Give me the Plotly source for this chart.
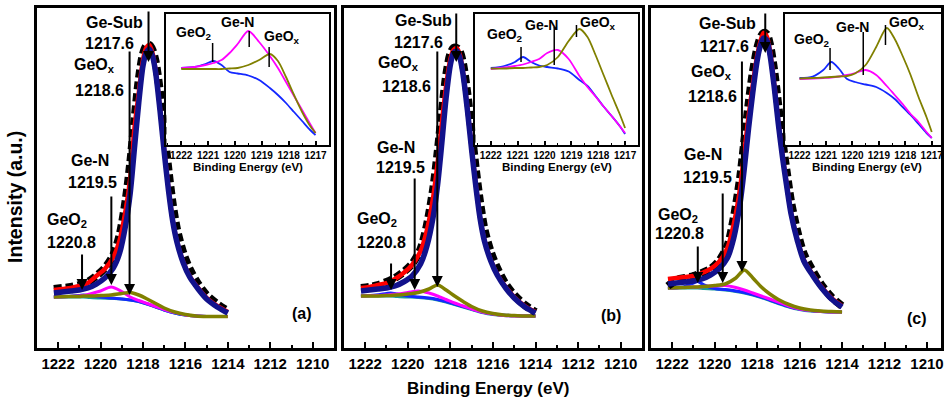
import plotly.graph_objects as go

# ---------------- data ----------------
# main panels: binding energy grid (eV) and intensities (arb. units)
BE_MAIN = [1222.2, 1221.8, 1221.4, 1221.0, 1220.6, 1220.2, 1219.8, 1219.4, 1219.1, 1218.8,
           1218.6, 1218.4, 1218.2, 1218.0, 1217.85, 1217.7, 1217.55, 1217.4, 1217.2, 1217.0,
           1216.8, 1216.6, 1216.4, 1216.1, 1215.8, 1215.4, 1215.0, 1214.5, 1214.0]
BE_COMP = [1222.2, 1221.5, 1221.0, 1220.8, 1220.5, 1220.0, 1219.5, 1219.0, 1218.6, 1218.2,
           1217.8, 1217.4, 1217.0, 1216.5, 1216.0, 1215.5, 1215.0, 1214.5, 1214.0]

data_a = [59, 60, 61, 63, 66, 72, 80, 93, 113, 150, 185, 228, 268, 294, 302, 303, 298, 286, 256, 218,
          178, 144, 119, 95, 79, 64, 53, 44, 37]
env_a = [58, 59, 60, 62, 65, 72, 79, 91, 108, 140, 170, 220, 255, 288, 300, 303, 295, 277, 240, 198,
         160, 128, 107, 86, 72, 60, 50, 42, 36]
sub_a = [55, 56, 57, 58, 60, 64, 70, 80, 95, 125, 155, 200, 245, 282, 295, 299, 292, 275, 238, 196,
         158, 127, 106, 85, 71, 59, 49, 41, 35]
bg_a = [51, 51, 51, 51, 50.5, 50, 49.5, 49, 48, 46.5, 44, 41, 38, 35, 33, 32, 31.5, 31.5, 31.5]
geox_a = [51, 51.5, 51.5, 52, 52, 52.5, 53, 54.5, 55.5, 53, 49, 44.5, 40, 36, 33.5, 32, 31.5, 31.5, 31.5]
gen_a = [51, 51.5, 52, 52.5, 54, 57, 61, 56.5, 51, 47.5, 44.5, 41.5, 38.5, 35.5, 33, 32, 31.5, 31.5, 31.5]
geo2_a = [51, 51.5, 52.5, 53, 52.5, 51, 50, 49, 48, 46.5, 44, 41, 38, 35, 33, 32, 31.5, 31.5, 31.5]

data_b = [60, 61, 63, 66, 70, 76, 84, 99, 123, 160, 195, 235, 272, 294, 300, 300, 296, 284, 254, 216,
          178, 145, 119, 96, 80, 64, 53, 43, 36]
env_b = [60, 61, 63, 65, 69, 75, 83, 97, 118, 152, 185, 225, 262, 289, 298, 300, 293, 275, 240, 200,
         163, 130, 108, 88, 74, 61, 51, 42, 36]
sub_b = [57, 58, 59, 60, 62, 66, 72, 84, 102, 132, 163, 205, 250, 283, 295, 297, 290, 273, 238, 198,
         161, 129, 107, 87, 73, 60, 50, 41, 35]
bg_b = [52, 52, 52, 52, 51.5, 51, 50.5, 49.5, 48, 46, 43.5, 41, 38.5, 35.5, 33.5, 32.5, 32, 32, 32]
geox_b = [52, 52, 52.5, 52.5, 53, 54, 55.5, 59, 63, 58, 52, 46.5, 41.5, 37, 34.5, 33, 32.5, 32, 32]
gen_b = [52, 52.5, 53, 53.5, 54, 55.5, 57, 55, 52, 48.5, 45, 42, 39, 36, 34, 32.5, 32, 32, 32]
geo2_b = [52, 53, 54.5, 55, 54, 52, 51, 50, 48.5, 46.5, 44, 41.5, 39, 36, 34, 33, 32.5, 32, 32]

data_c = [62, 68, 70, 72, 75, 79, 87, 102, 130, 170, 207, 244, 276, 299, 310, 315, 314, 304, 278, 242,
          206, 175, 146, 116, 94, 78, 64, 51, 42]
env_c = [69, 70, 71, 72, 75, 79, 86, 100, 124, 160, 196, 232, 264, 292, 306, 315, 312, 298, 265, 226,
         192, 163, 135, 108, 88, 74, 62, 50, 42]
sub_c = [64, 65, 66, 67, 69, 73, 79, 90, 110, 145, 180, 220, 256, 287, 302, 310, 308, 294, 262, 224,
         190, 161, 134, 107, 87, 73, 61, 49, 41]
bg_c = [60, 60, 60, 60, 59.5, 59, 58, 56.5, 55, 53, 50.5, 47.5, 44.5, 41, 38.5, 37, 36.5, 36, 36]
geox_c = [60, 60.5, 61, 61, 61.5, 62.5, 64, 70, 78, 70, 61, 54, 48.5, 43.5, 40, 38, 37, 36.5, 36]
gen_c = [60, 60.5, 61, 61, 61.5, 62, 62.5, 60.5, 58, 55, 52, 49, 46, 42, 39, 37.5, 36.5, 36, 36]
geo2_c = [60, 61, 65, 66.5, 63, 59.5, 58.5, 57, 55.5, 53.5, 51, 48, 45, 41.5, 39, 37.5, 36.5, 36, 36]

# insets
BE_INSET = [1222.0, 1221.5, 1221.1, 1220.8, 1220.5, 1220.2, 1219.9, 1219.5, 1219.1, 1218.7,
            1218.4, 1218.1, 1217.8, 1217.5, 1217.2, 1217.0]
in_geo2_a = [77, 78, 81, 84, 80, 73, 71.5, 69.5, 65, 57, 50, 42, 33, 24, 15, 10]
in_gen_a = [77, 78, 80, 82, 85, 92, 101, 114, 103, 89, 77, 63, 49, 35, 21, 12]
in_geox_a = [76, 76, 76, 76, 76, 76.5, 77, 80, 85, 91, 84, 68, 50, 33, 19, 12]
in_geo2_b = [77, 79, 83, 88, 83, 79.5, 78, 76.5, 73.5, 65, 59, 49, 38.5, 29, 19, 11]
in_gen_b = [76, 77.5, 79, 80.5, 83, 86, 92, 95, 86, 69, 58, 48.5, 38.5, 29, 19, 12]
in_geox_b = [76.5, 76.5, 77, 77, 77.5, 78, 80, 88, 104, 116, 108, 90, 70, 50, 31, 17]
in_geo2_c = [67, 68.5, 75, 83, 76, 66, 63, 60.5, 58, 52, 46, 38, 30, 21, 12, 7]
in_gen_c = [66, 66.5, 67, 67.5, 68.5, 70, 72, 75, 70, 59, 50, 41, 31, 23, 13, 7]
in_geox_c = [66.5, 67, 67.5, 68, 68.5, 69, 71.5, 80, 98, 117, 106, 89, 70, 48, 28, 13]

TICKS_MAIN = [1222, 1220, 1218, 1216, 1214, 1212, 1210]
TICKS_INSET = [1222, 1221, 1220, 1219, 1218, 1217]
PANEL_TAGS = ["(a)", "(b)", "(c)"]
PEAK_NAMES = ["Ge-Sub", "GeO<sub>x</sub>", "Ge-N", "GeO<sub>2</sub>"]
PEAK_POS = ["1217.6", "1218.6", "1219.5", "1220.8"]

# ---------------- styling / layout ----------------
W, H = 944, 405
FONT = "Liberation Sans, Arial, sans-serif"
C_DATA, C_ENV, C_SUB = "black", "#ff0000", "#12128c"
C_BG, C_GEOX, C_GEN, C_GEO2 = "#1a9a9a", "#808000", "#ff00ff", "#1428ff"


def fx(p):
    return p / W


def fy(p):
    return 1 - p / H


panels = [
    dict(main=(37, 335), rng=(1223, 1209), inset=(167, 330), irng=(1222.55, 1216.5),
         data=data_a, env=env_a, sub=sub_a, bg=bg_a, geox=geox_a, gen=gen_a, geo2=geo2_a,
         igeo2=in_geo2_a, igen=in_gen_a, igeox=in_geox_a),
    dict(main=(345, 644), rng=(1223, 1209), inset=(477, 640), irng=(1222.57, 1216.52),
         data=data_b, env=env_b, sub=sub_b, bg=bg_b, geox=geox_b, gen=gen_b, geo2=geo2_b,
         igeo2=in_geo2_b, igen=in_gen_b, igeox=in_geox_b),
    dict(main=(653, 944), rng=(1223, 1209.34), inset=(788, 944), irng=(1222.53, 1216.65),
         data=data_c, env=env_c, sub=sub_c, bg=bg_c, geox=geox_c, gen=gen_c, geo2=geo2_c,
         igeo2=in_geo2_c, igen=in_gen_c, igeox=in_geox_c),
]

# label positions in pixels (x, y) for each panel
LABELS = [
    [(115, 22), (95, 65), (90, 160), (67, 220)],
    [(425, 20), (400, 64), (397, 147), (378, 219)],
    [(730, 23), (714, 72), (705, 155), (680, 215)],
]
POS_LABELS = [
    [(110, 43), (100, 90), (93, 182), (72, 242)],
    [(420, 42), (408, 87), (402, 168), (383, 242)],
    [(727, 47), (715, 97), (710, 177), (682, 233)],
]
TAG_POS = [(303, 313), (613, 315), (920, 318)]
# arrows: x, tail y, tip y  (order: Ge-Sub, GeOx, Ge-N, GeO2)
ARROWS = [
    [(149, 10, 62), (130, 50, 295), (111.7, 195, 285), (82.3, 253, 290)],
    [(457.7, 12, 62), (438.7, 50, 287), (416, 177, 290), (392.3, 262, 290)],
    [(767.7, 12, 53), (744.3, 60, 272), (725, 192, 283), (700, 245, 283)],
]
# inset labels (GeO2, Ge-N, GeOx) and marker lines (x, y1, y2)
INSET_LABELS = [
    [(195, 33), (238, 22), (283, 37)],
    [(507, 35), (543, 25), (600, 23)],
    [(815, 40), (855, 27), (910, 23)],
]
INSET_MARKS = [
    [(213.3, 43, 62), (250, 31, 47), (270, 47, 67)],
    [(522.7, 47, 62), (556, 27, 65), (578.3, 25, 37)],
    [(832.7, 48, 70), (866, 32, 75), (888.3, 25, 45)],
]
INSET_NAMES = ["GeO<sub>2</sub>", "Ge-N", "GeO<sub>x</sub>"]

MAIN_Y = (8, 348)
INSET_Y = (14, 145)

fig = go.Figure()
layout = {}
annotations = []
shapes = []

for i, p in enumerate(panels):
    mx = i + 1
    ix = i + 4
    xm = "x" if mx == 1 else f"x{mx}"
    ym = "y" if mx == 1 else f"y{mx}"
    xi, yi = f"x{ix}", f"y{ix}"

    def add(x, y, color, width, xa, ya, dash=None):
        fig.add_trace(go.Scatter(x=x, y=y, mode="lines", xaxis=xa, yaxis=ya,
                                 line=dict(color=color, width=width, dash=dash,
                                           shape="spline", smoothing=0.8),
                                 showlegend=False, hoverinfo="skip"))

    add(BE_COMP, p["bg"], C_BG, 3, xm, ym)
    add(BE_COMP, p["geo2"], C_GEO2, 3, xm, ym)
    add(BE_COMP, p["gen"], C_GEN, 3, xm, ym)
    add(BE_COMP, p["geox"], C_GEOX, 3.5, xm, ym)
    add(BE_MAIN, p["data"], C_DATA, 8, xm, ym, dash="8px,4px")
    add(BE_MAIN, p["env"], C_ENV, 4.5, xm, ym)
    add(BE_MAIN, p["sub"], C_SUB, 5.5, xm, ym)

    add(BE_INSET, p["igeo2"], C_GEO2, 1.8, xi, yi)
    add(BE_INSET, p["igen"], C_GEN, 1.8, xi, yi)
    add(BE_INSET, p["igeox"], C_GEOX, 1.8, xi, yi)

    layout[f"xaxis{'' if mx == 1 else mx}"] = dict(
        domain=[fx(p["main"][0]), fx(p["main"][1])], range=list(p["rng"]), anchor=ym,
        showline=True, linewidth=3, linecolor="black", mirror=True,
        ticks="inside", ticklen=6, tickwidth=2, tickcolor="black",
        tickmode="array", tickvals=TICKS_MAIN, ticktext=[str(t) for t in TICKS_MAIN],
        minor=dict(ticks="inside", ticklen=3, tickwidth=2, tickcolor="black", dtick=1, tick0=1209),
        ticklabeloverflow="allow",
        tickfont=dict(family=FONT, size=15, color="black", weight="bold"),
        showgrid=False, zeroline=False, fixedrange=True)
    layout[f"yaxis{'' if mx == 1 else mx}"] = dict(
        domain=[fy(MAIN_Y[1]), fy(MAIN_Y[0])], range=[0, 340], anchor=xm,
        showline=True, linewidth=3, linecolor="black", mirror=True,
        ticks="", showticklabels=False, showgrid=False, zeroline=False)
    layout[f"xaxis{ix}"] = dict(
        domain=[fx(p["inset"][0]), min(1.0, fx(p["inset"][1]))], range=list(p["irng"]), anchor=yi,
        showline=True, linewidth=1.8, linecolor="black", mirror=True,
        ticks="inside", ticklen=4, tickwidth=1.5, tickcolor="black",
        tickmode="array", tickvals=TICKS_INSET, ticktext=[str(t) for t in TICKS_INSET],
        minor=dict(ticks="inside", ticklen=2, tickwidth=1, tickcolor="black", dtick=0.5, tick0=1217),
        ticklabeloverflow="allow",
        tickfont=dict(family=FONT, size=10, color="black", weight="bold"),
        showgrid=False, zeroline=False)
    layout[f"yaxis{ix}"] = dict(
        domain=[fy(INSET_Y[1]), fy(INSET_Y[0])], range=[0, 131], anchor=xi,
        showline=True, linewidth=1.8, linecolor="black", mirror=True,
        ticks="", showticklabels=False, showgrid=False, zeroline=False)

    bold = dict(family=FONT, size=16, color="black", weight="bold")
    for name, (lx, ly) in zip(PEAK_NAMES, LABELS[i]):
        annotations.append(dict(text=name, x=fx(lx), y=fy(ly), xref="paper", yref="paper",
                                showarrow=False, xanchor="center", yanchor="middle", font=bold))
    for val, (lx, ly) in zip(PEAK_POS, POS_LABELS[i]):
        annotations.append(dict(text=val, x=fx(lx), y=fy(ly), xref="paper", yref="paper",
                                showarrow=False, xanchor="center", yanchor="middle", font=bold))
    annotations.append(dict(text=PANEL_TAGS[i], x=fx(TAG_POS[i][0]), y=fy(TAG_POS[i][1]),
                            xref="paper", yref="paper", showarrow=False,
                            xanchor="center", yanchor="middle", font=bold))
    for (axp, tail, tip) in ARROWS[i]:
        annotations.append(dict(text="", x=fx(axp), y=fy(tip), xref="paper", yref="paper",
                                showarrow=True, ax=0, ay=tail - tip, arrowhead=2, arrowsize=1.1,
                                arrowwidth=2, arrowcolor="black", standoff=0))
    for name, (lx, ly) in zip(INSET_NAMES, INSET_LABELS[i]):
        annotations.append(dict(text=name, x=fx(lx), y=fy(ly), xref="paper", yref="paper",
                                showarrow=False, xanchor="center", yanchor="middle",
                                font=dict(family=FONT, size=14, color="black", weight="bold")))
    for (mxp, y1, y2) in INSET_MARKS[i]:
        shapes.append(dict(type="line", xref="paper", yref="paper", x0=fx(mxp), x1=fx(mxp),
                           y0=fy(y1), y1=fy(y2), line=dict(color="black", width=1.5)))
    icx = p["inset"][0] + 81.5
    annotations.append(dict(text="Binding Energy (eV)", x=fx(icx), y=fy(167), xref="paper",
                            yref="paper", showarrow=False, xanchor="center", yanchor="middle",
                            font=dict(family=FONT, size=11.5, color="black", weight="bold")))

annotations.append(dict(text="Binding Energy (eV)", x=fx(490), y=fy(388), xref="paper", yref="paper",
                        showarrow=False, xanchor="center", yanchor="middle",
                        font=dict(family=FONT, size=17, color="black", weight="bold")))
annotations.append(dict(text="Intensity (a.u.)", x=fx(15), y=fy(197), xref="paper", yref="paper",
                        showarrow=False, xanchor="center", yanchor="middle", textangle=-90,
                        font=dict(family=FONT, size=19.5, color="black", weight="bold")))

fig.update_layout(width=W, height=H, margin=dict(l=0, r=0, t=0, b=0),
                  paper_bgcolor="white", plot_bgcolor="white",
                  annotations=annotations, shapes=shapes, **layout)
fig.write_html("out.html", config={"displayModeBar": False},
               post_script="document.body.style.margin='0';document.body.style.overflow='hidden';")
